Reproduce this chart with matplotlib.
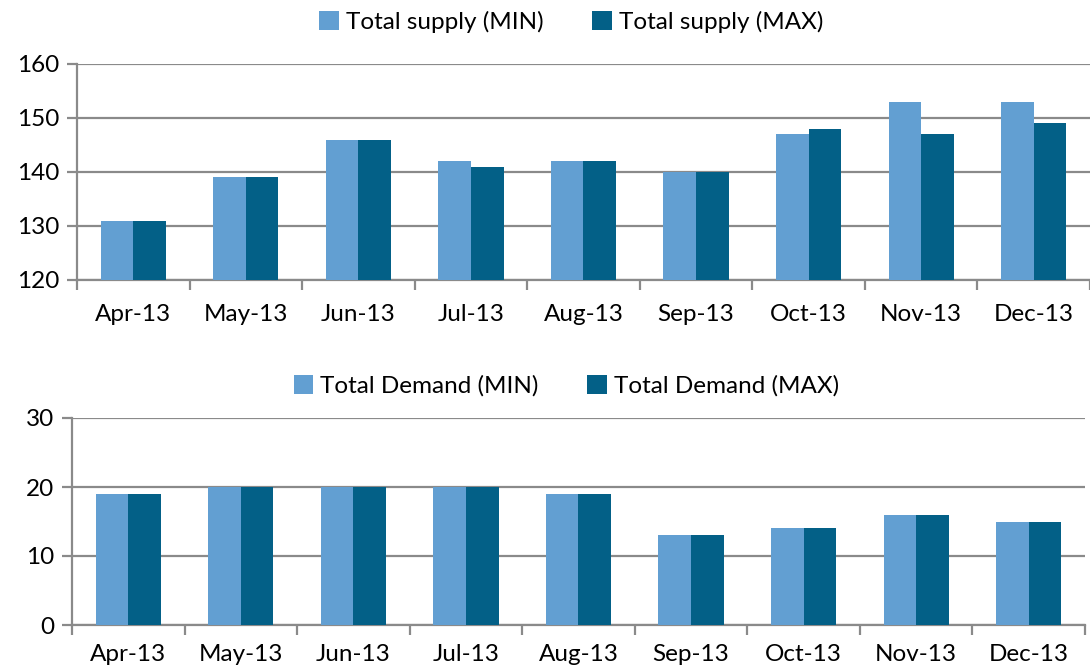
import numpy as np
import matplotlib.pyplot as plt

months = ["Apr-13", "May-13", "Jun-13", "Jul-13", "Aug-13", "Sep-13", "Oct-13", "Nov-13", "Dec-13"]
supply_min = [131, 139, 146, 142, 142, 140, 147, 153, 153]
supply_max = [131, 139, 146, 141, 142, 140, 148, 147, 149]
demand_min = [19, 20, 20, 20, 19, 13, 14, 16, 15]
demand_max = [19, 20, 20, 20, 19, 13, 14, 16, 15]

c_min = "#629fd2"
c_max = "#036087"
grey = "#8a8a8a"

plt.rcParams["font.family"] = ["Lato", "DejaVu Sans"]

fig = plt.figure(figsize=(10.9, 6.69), dpi=100)
ax1 = fig.add_axes([77 / 1090, 389 / 669, 1013 / 1090, 216 / 669])
ax2 = fig.add_axes([72 / 1090, 44 / 669, 1013 / 1090, 207 / 669])


def draw(ax, lo, hi, ylim, step, names, leg_y, xpad):
    x = np.arange(len(months))
    w = 0.29
    ax.bar(x - w / 2, lo, w, color=c_min, label=names[0], zorder=3)
    ax.bar(x + w / 2, hi, w, color=c_max, label=names[1], zorder=3)
    ax.set_xlim(-0.5, len(months) - 0.5)
    ax.set_ylim(*ylim)
    ax.set_yticks(np.arange(ylim[0], ylim[1] + 1, step))
    ax.yaxis.grid(True, color=grey, linewidth=1.6, zorder=0)
    ax.set_xticks(np.arange(len(months) + 1) - 0.5)
    ax.set_xticklabels([])
    ax.set_xticks(x, minor=True)
    ax.set_xticklabels(months, minor=True)
    ax.tick_params(axis="x", which="major", length=7, width=1.6, color=grey)
    ax.tick_params(axis="x", which="minor", length=0, pad=xpad, labelsize=17.5)
    ax.tick_params(axis="y", length=7, width=1.6, color=grey, labelsize=17.5, pad=6)
    for s in ["top", "right"]:
        ax.spines[s].set_visible(False)
    for s in ["left", "bottom"]:
        ax.spines[s].set_color(grey)
        ax.spines[s].set_linewidth(1.6)
    ax.legend(loc="center", bbox_to_anchor=(0.488, leg_y), ncol=2, frameon=False,
              fontsize=17.5, handlelength=0.8, handleheight=0.8, handletextpad=0.3,
              columnspacing=2.0, borderaxespad=0, borderpad=0)


draw(ax1, supply_min, supply_max, (120, 160), 10,
     ["Total supply (MIN)", "Total supply (MAX)"], 1.194, 17)
draw(ax2, demand_min, demand_max, (0, 30), 10,
     ["Total Demand (MIN)", "Total Demand (MAX)"], 1.155, 14)

fig.savefig("out.png", dpi=100, facecolor="white")
